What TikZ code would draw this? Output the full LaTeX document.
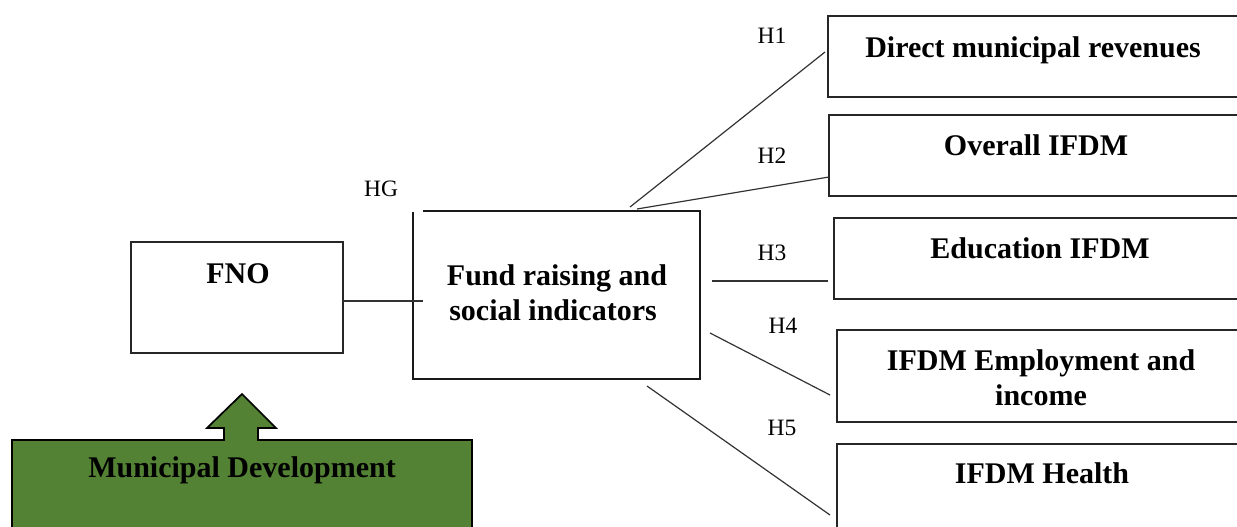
\documentclass[tikz,border=0pt]{standalone}
\usepackage{fontspec}
\setmainfont{Liberation Serif}
\usetikzlibrary{fit}
\definecolor{mdgreen}{HTML}{548235}
\tikzset{
  frame/.style={draw=black!85, line width=0.9pt, inner sep=0pt},
  fundframe/.style={draw=black!90, line width=1.1pt},
  conn/.style={draw=black!80, line width=0.9pt},
  btext/.style={anchor=base, inner sep=0pt, font=\fontsize{22.5}{26}\selectfont\bfseries},
  hlab/.style={anchor=base, inner sep=0pt, font=\fontsize{17.6}{20}\selectfont},
}
\begin{document}
\begin{tikzpicture}[x=0.75pt,y=-0.75pt]
\useasboundingbox (0,0) rectangle (1237,526);
\clip (0,0) rectangle (1237,526);
\fill[white] (0,0) rectangle (1237,526);

% FNO box
\node[frame, fit={(131,242) (343,353)}] (fno) {};
\node[btext] (fnot) at (238,283) {FNO};

% Fund raising box (outline with a small gap at the top-left corner)
\node[inner sep=0pt, outer sep=0pt, fit={(413,211) (700,379)}] (fund) {};
\draw[fundframe] ([xshift=7.5pt]fund.north west) -- (fund.north east) -- (fund.south east) -- (fund.south west) -- ([yshift=-0.75pt]fund.north west);
\node[btext] (fundt1) at (557,285) {Fund raising and};
\node[btext] (fundt2) at (553,320) {social indicators};
\node[hlab] (hg) at (381,196) {HG};

% right boxes
\node[frame, fit={(828,16) (1252,97)}] (r1) {};
\node[btext] (r1t) at (1033,57) {Direct municipal revenues};
\node[frame, fit={(829,115) (1252,196)}] (r2) {};
\node[btext] (r2t) at (1036,155) {Overall IFDM};
\node[frame, fit={(834,218) (1252,299)}] (r3) {};
\node[btext] (r3t) at (1040,258) {Education IFDM};
\node[frame, fit={(837,330) (1252,422)}] (r4) {};
\node[btext] (r4t1) at (1041,370) {IFDM Employment and};
\node[btext] (r4t2) at (1041,405) {income};
\node[frame, fit={(837,444) (1252,545)}] (r5) {};
\node[btext] (r5t) at (1042,483) {IFDM Health};

% connector end points
\coordinate (fnoR) at (343,301);
\coordinate (fundL) at (423,301);
\coordinate (s1) at (630,207);
\coordinate (e1) at (825,52);
\coordinate (s2) at (637,209);
\coordinate (e2) at (829,177);
\coordinate (s3) at (712,281);
\coordinate (e3) at (828,281);
\coordinate (s4) at (710,333);
\coordinate (e4) at (830,395);
\coordinate (s5) at (647,386);
\coordinate (e5) at (830,515);

\draw[conn] (fnoR) -- (fundL);
\draw[conn] (s1) -- (e1);
\draw[conn] (s2) -- (e2);
\draw[conn] (s3) -- (e3);
\draw[conn] (s4) -- (e4);
\draw[conn] (s5) -- (e5);

\node[hlab] (h1) at (772,43) {H1};
\node[hlab] (h2) at (772,163) {H2};
\node[hlab] (h3) at (772,260) {H3};
\node[hlab] (h4) at (783,333) {H4};
\node[hlab] (h5) at (782,435) {H5};

% Municipal development box with arrow
\draw[fill=mdgreen, draw=black, line width=1.3pt, line join=miter]
  (12,540) -- (12,440) -- (224,440) -- (224,428) -- (207,428) -- (242,394)
  -- (276,428) -- (258,428) -- (258,440) -- (472,440) -- (472,540);
\node[btext] (mdt) at (242,477) {Municipal Development};
\end{tikzpicture}
\end{document}
